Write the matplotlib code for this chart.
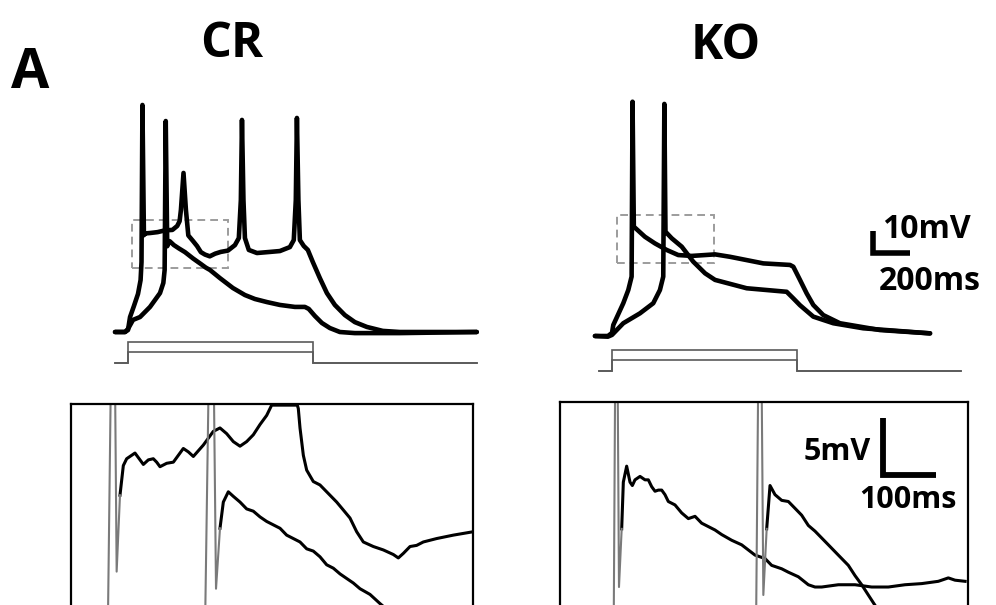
import numpy as np
import matplotlib
matplotlib.use("Agg")
import matplotlib.pyplot as plt
from matplotlib.patches import Rectangle

# ---------------- data (time in ms, membrane potential in mV) ----------------
# overview traces, CR neuron
cr_trace_a = np.array([
    (-70, -70), (-16, -70), (0, -69.1), (11, -63.2), (32, -58.2), (54, -52.7), (68, -46.4),
    (73, -38.2), (78, 33.2), (86, -26.0), (92, -25.2), (120, -25.0), (160, -24.6),
    (200, -23.8), (240, -23.6), (266, -21.8), (279, -19.6), (286, -14.5), (300, 2.3),
    (313, -14.5), (326, -26.1), (352, -28.7), (373, -30.9), (394, -33.7), (416, -34.8),
    (442, -35.6), (471, -34.4), (501, -33.6), (540, -33.0), (578, -30.5), (599, -27.3),
    (610, -10.0), (616, 26.4), (624, -10.0), (632, -27.3), (653, -32.7), (697, -34.1),
    (767, -33.6), (821, -33.2), (875, -31.4), (896, -28.2), (907, -10.0), (913, 27.3),
    (921, -10.0), (929, -28.2), (950, -30.9), (972, -32.7), (999, -38.2), (1037, -45.5),
    (1075, -52.3), (1118, -57.7), (1172, -62.3), (1226, -65.5), (1291, -67.7), (1377, -69.5),
    (1469, -70.0), (1885, -70.0)])
cr_trace_b = np.array([
    (-70, -70), (-16, -70), (0, -68.6), (27, -64.5), (65, -63.2), (119, -58.6), (173, -52.3),
    (191, -47.7), (198, -41.8), (204, 25.9), (212, -31.0), (218, -29.8), (225, -28.7),
    (248, -30.5), (275, -32.0), (308, -33.7), (352, -36.6), (394, -39.1), (420, -40.7),
    (443, -41.8), (497, -45.5), (567, -50.0), (632, -53.2), (686, -55.0), (751, -56.4),
    (821, -57.7), (902, -58.6), (956, -58.6), (977, -59.5), (1010, -62.7), (1048, -65.9),
    (1091, -68.2), (1145, -70.0), (1226, -70.5), (1469, -70.5), (1885, -70.0)])

# overview traces, KO neuron
ko_trace_a = np.array([
    (-92, -70), (-22, -70), (0, -68.6), (7, -65.0), (61, -55.1), (88, -49.1), (106, -43.0),
    (111, 36.5), (118, -20.3), (178, -24.9), (232, -27.9), (296, -30.9), (358, -33.2),
    (431, -33.6), (503, -33.2), (557, -32.9), (638, -34.0), (818, -37.0), (962, -37.7),
    (980, -38.5), (1016, -44.5), (1052, -50.6), (1088, -55.9), (1142, -60.5), (1232, -64.2),
    (1449, -67.3), (1719, -68.8)])
ko_trace_b = np.array([
    (-92, -70), (-22, -70.3), (0, -69.5), (61, -64.2), (151, -59.7), (223, -55.1),
    (259, -49.1), (277, -43.0), (283, 35.5), (289, -22.6), (323, -25.6), (377, -29.4),
    (439, -36.2), (503, -41.5), (557, -44.5), (728, -48.3), (944, -49.9), (980, -52.9),
    (1016, -56.0), (1088, -61.2), (1196, -64.2), (1358, -66.5), (1719, -68.8)])

# current step protocol (ms, pA)
stim_t = [-70, 0, 0, 1000, 1000, 1885]
stim_amps = [50, 100]

# zoomed windows (dashed boxes): t0, t1, v0, v1
cr_zoom_box = (20, 542, -41.0, -19.1)
ko_zoom_box = (25, 551, -36.7, -15.0)

# magnified traces (time in ms from window start, mV)
crz_a = np.array([
    (70, -40), (80.4, 0), (86.7, -34.7), (93.0, -28.0), (99.3, -25.4), (105.6, -24.8),
    (121.3, -24.3), (130.8, -24.9), (137.1, -25.3), (146.5, -24.9), (155.9, -24.8),
    (162.2, -25.1), (168.5, -25.5), (181.1, -25.2), (193.7, -25.1), (212.5, -23.9),
    (222.0, -24.2), (231.4, -24.6), (250.3, -23.6), (269.1, -22.4), (281.7, -22.1),
    (294.3, -22.6), (306.9, -23.3), (319.5, -23.7), (332.0, -23.3), (344.6, -22.7),
    (357.2, -21.8), (369.8, -21.0), (376.1, -20.4), (379.2, -20.1), (427.6, -20.1),
    (429.5, -20.4), (432.7, -22.1), (439.0, -24.5), (445.3, -25.8), (457.8, -26.8),
    (470.4, -27.1), (483.0, -27.7), (501.9, -28.6), (514.5, -29.3), (527.0, -30.0),
    (539.6, -31.2), (552.2, -32.1), (571.1, -32.5), (590.0, -32.8), (608.8, -33.2),
    (618.2, -33.5), (627.7, -33.1), (640.3, -32.5), (652.8, -32.4), (665.4, -32.1),
    (690.6, -31.8), (722.0, -31.5), (759.8, -31.2)])
crz_b = np.array([
    (253.4, -40), (266.0, 0), (274.2, -36.2), (281.7, -30.9), (288.0, -28.6), (297.4, -27.7),
    (306.9, -28.1), (319.5, -28.6), (332.0, -29.2), (344.6, -29.4), (357.2, -29.9),
    (369.8, -30.3), (382.4, -30.6), (395.0, -30.9), (407.5, -31.5), (420.1, -31.8),
    (432.7, -32.1), (445.3, -32.7), (457.8, -32.9), (470.4, -33.4), (483.0, -34.1),
    (495.6, -34.4), (508.2, -34.9), (520.7, -35.3), (533.3, -35.7), (545.9, -36.2),
    (564.8, -36.7), (583.6, -37.5), (608.8, -38.5)])
koz_a = np.array([
    (101.3, -40), (106.3, 0), (111.3, -36.2), (116.4, -31.1), (119.5, -27.0), (125.8, -25.6),
    (132.1, -27.0), (136.5, -27.3), (141.5, -26.8), (151.0, -26.5), (160.4, -26.8),
    (166.7, -26.8), (173.0, -27.4), (179.3, -27.8), (185.6, -27.7), (191.9, -27.7),
    (198.1, -28.1), (204.4, -28.7), (217.0, -29.0), (229.6, -29.7), (242.2, -30.2),
    (254.8, -30.0), (267.3, -30.6), (279.9, -30.9), (292.5, -31.2), (305.1, -31.6),
    (324.0, -32.1), (342.8, -32.5), (368.0, -33.4), (386.8, -33.7), (399.4, -34.3),
    (418.3, -34.6), (430.9, -34.9), (449.7, -35.3), (468.6, -36.0), (481.2, -36.2),
    (493.8, -36.2), (525.2, -36.0), (556.7, -36.0), (588.1, -36.2), (619.6, -36.2),
    (651.0, -36.0), (682.5, -35.9), (713.9, -35.7), (732.8, -35.4), (745.4, -35.6),
    (764.4, -35.7)])
koz_b = np.array([
    (369.9, -40), (377.4, 0), (383.7, -36.9), (390.0, -31.1), (396.3, -27.3), (405.7, -28.1),
    (418.3, -28.6), (430.9, -28.7), (443.5, -29.3), (456.0, -29.9), (468.6, -30.8),
    (481.2, -31.3), (493.8, -31.9), (506.4, -32.5), (525.2, -33.4), (544.1, -34.3),
    (556.7, -35.2), (569.3, -36.0), (581.8, -36.9), (594.4, -37.8), (613.3, -39.1)])

# scale bars
top_bar_ms, top_bar_mv = 200, 10
zoom_bar_ms, zoom_bar_mv = 100, 5

# ---------------- layout helpers ----------------
W, H = 996, 605
fig = plt.figure(figsize=(W / 100, H / 100), dpi=100)
fig.patch.set_facecolor("white")
FONT = "Open Sans"


def px_axes(x0, y0, x1, y1):
    ax = fig.add_axes([x0 / W, 1 - y1 / H, (x1 - x0) / W, (y1 - y0) / H])
    ax.set_facecolor("none")
    return ax


def ftext(x, y, s, size, ha="left"):
    fig.text(x / W, 1 - y / H, s, fontsize=size, fontweight="bold", family=[FONT, "DejaVu Sans"],
             ha=ha, va="baseline", color="black")


MS_PX = 5.405      # ms per pixel (overview)
PX_MV = 2.2        # pixels per mV (overview)
Z_MS_PX = 1.887    # ms per pixel (magnified)
Z_MV_PX = 0.0877   # mV per pixel (magnified)

panels = [
    dict(rect=(100, 90, 490, 385), xref=128, yref=332, a=cr_trace_a, b=cr_trace_b,
         box=cr_zoom_box, srect=(100, 330, 490, 380), sbase=362.7),
    dict(rect=(580, 90, 970, 385), xref=612, yref=336, a=ko_trace_a, b=ko_trace_b,
         box=ko_zoom_box, srect=(580, 335, 970, 385), sbase=370.7),
]

top_axes = []
for p in panels:
    x0, y0, x1, y1 = p["srect"]
    sax = px_axes(x0, y0, x1, y1)
    sax.set_xlim((x0 - p["xref"]) * MS_PX, (x1 - p["xref"]) * MS_PX)
    sax.set_ylim(-(y1 - p["sbase"]) / 0.21, (p["sbase"] - y0) / 0.21)
    for amp in stim_amps:
        sax.plot(stim_t, [0, 0, amp, amp, 0, 0], color="#5a5a5a", lw=1.2,
                 solid_joinstyle="miter")
    sax.axis("off")

    x0, y0, x1, y1 = p["rect"]
    ax = px_axes(x0, y0, x1, y1)
    ax.set_xlim((x0 - p["xref"]) * MS_PX, (x1 - p["xref"]) * MS_PX)
    ax.set_ylim(-70 + (p["yref"] - y1) / PX_MV, -70 + (p["yref"] - y0) / PX_MV)
    for tr in (p["a"], p["b"]):
        ax.plot(tr[:, 0], tr[:, 1], color="black", lw=3.3, solid_joinstyle="round",
                solid_capstyle="round")
    t0, t1, v0, v1 = p["box"]
    ax.add_patch(Rectangle((t0, v0), t1 - t0, v1 - v0, fill=False, edgecolor="#9c9c9c",
                           lw=1.4, linestyle=(0, (4, 2.6))))
    ax.axis("off")
    top_axes.append(ax)

# overview scale bar (in KO panel)
ko_ax = top_axes[1]
ko_ax.plot([1412, 1412, 1412 + top_bar_ms], [-32.3 + top_bar_mv, -32.3, -32.3], color="black",
           lw=4.0, solid_joinstyle="miter", solid_capstyle="butt", clip_on=False)
ftext(882, 238, f"{top_bar_mv}mV", 23)
ftext(879, 290, f"{top_bar_ms}ms", 23)

# magnified panels
zooms = [
    dict(rect=(70.7, 404, 472.7, 614), a=crz_a, b=crz_b),
    dict(rect=(560, 402.3, 968, 612.3), a=koz_a, b=koz_b),
]
zaxes = []
for z in zooms:
    x0, y0, x1, y1 = z["rect"]
    ax = px_axes(x0, y0, x1, y1)
    ax.set_xlim(0, (x1 - x0) * Z_MS_PX)
    ax.set_ylim(-20 - (y1 - y0) * Z_MV_PX, -20)
    for tr in (z["a"], z["b"]):
        ax.plot(tr[3:, 0], tr[3:, 1], color="black", lw=2.2, solid_joinstyle="round")
        ax.plot(tr[:4, 0], tr[:4, 1], color="#7a7a7a", lw=1.5)
    ax.set_xticks([])
    ax.set_yticks([])
    for s in ax.spines.values():
        s.set_linewidth(1.6)
        s.set_color("black")
    zaxes.append(ax)

kz = zaxes[1]
kz.plot([608.6, 608.6, 608.6 + zoom_bar_ms], [-26.4 + zoom_bar_mv, -26.4, -26.4], color="black",
        lw=4.2, solid_joinstyle="miter", solid_capstyle="butt", clip_on=False)
ftext(871, 460, f"{zoom_bar_mv}mV", 22, ha="right")
ftext(859, 508, f"{zoom_bar_ms}ms", 22)

# titles
ftext(30, 88, "A", 40, ha="center")
ftext(232, 57, "CR", 35, ha="center")
ftext(726, 59, "KO", 35, ha="center")

fig.savefig("out.png", dpi=100)
